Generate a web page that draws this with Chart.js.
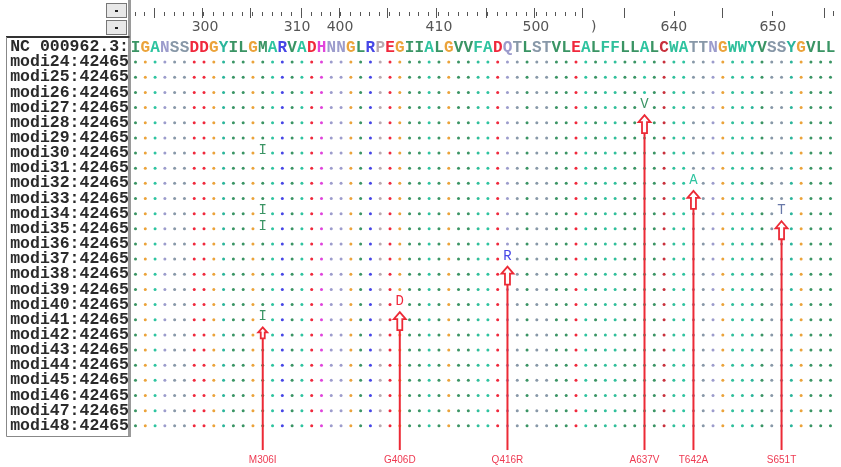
<!DOCTYPE html>
<html><head><meta charset="utf-8">
<script src="https://cdn.jsdelivr.net/npm/chart.js@4.4.1/dist/chart.umd.min.js"></script>
<style>html,body{margin:0;padding:0;background:#fff;}#wrap{width:841px;height:467px;position:relative}</style>
</head><body><div id="wrap"><canvas id="c" width="841" height="467"></canvas></div>
<script>
// ---------- data ----------
const residues = "IGANSSDDGYILGMARVADHNNGLRPEGIIALGVVFADQTLSTVLEALFFLLALCWATTNGWWYVSSYGVLL".split('');
const refName = "NC 000962.3:";
const sampleIds = [24,25,26,27,28,29,30,31,32,33,34,35,36,37,38,39,40,41,42,43,44,45,46,47,48];
const sampleSuffix = ":42465";
const rulerLabels = ["300","310","400","410","500",")","640","650"];
const rulerLabelCols = [7.1,16.5,20.9,31.0,40.9,46.8,55.0,65.1];
const rulerMajorCols = [1.9,6.8,11.7,16.9,20.8,25.7,30.7,35.8,40.7,45.6,49.9,59.9,70.3];
const rulerMinorCols = [55.0,65.0,71.3];
const mutationNames = ["M306I","G406D","Q416R","A637V","T642A","S651T"];
const mutationCols = [13,27,38,52,57,66];
const mutationResidues = ["I","D","R","V","A","T"];
const mutationRows = [[6,10,11,17],[16],[13],[3],[8],[10]]; // 0 = modi24

// ---------- styles ----------
const colorMap = {A:'#2ec4a0',G:'#eba33a',N:'#9c9ccc',S:'#8898a8',T:'#8898a8',D:'#f0283c',E:'#f0283c',
  Y:'#2bb59b',I:'#3a9464',L:'#3a9464',V:'#3a9464',M:'#3a9464',R:'#4646e6',H:'#e044dc',P:'#b8a8b0',
  F:'#30c09c',W:'#30c09c',C:'#c8303c',Q:'#9c9ccc'};
const mutColor = {I:'#3a9464',D:'#f0283c',R:'#4646e6',V:'#3a9464',A:'#2ec4a0',T:'#6878a8'};
const RED = '#ec2a36';

const rowLabels = [refName].concat(sampleIds.map(n => 'modi' + n + sampleSuffix));
const rowVals = rowLabels.map((_, i) => i - 1);

const mutSet = new Set();
mutationCols.forEach((c, i) => mutationRows[i].forEach(r => mutSet.add(c + ':' + r)));
const dots = [];
for (let r = 0; r < sampleIds.length; r++) {
  residues.forEach((res, c) => {
    if (res !== ' ' && !mutSet.has(c + ':' + r)) dots.push({x: c, y: r});
  });
}

const overlay = {
  id: 'overlay',
  afterDatasetsDraw(chart) {
    const {ctx, scales: {x, y}, chartArea: ca} = chart;
    ctx.save();
    // reference sequence
    const refY = y.getPixelForValue(-1);
    ctx.font = 'bold 16px "Liberation Mono"';
    ctx.textAlign = 'center'; ctx.textBaseline = 'middle';
    residues.forEach((res, c) => {
      if (res === ' ') return;
      ctx.fillStyle = colorMap[res];
      ctx.fillText(res, x.getPixelForValue(c), refY + 1);
    });
    // ruler
    ctx.strokeStyle = '#555'; ctx.lineWidth = 1;
    for (let c = 0; c < 46; c++) {
      const px = Math.round(x.getPixelForValue(c - 0.1)) + 0.5;
      ctx.beginPath(); ctx.moveTo(px, 12); ctx.lineTo(px, 16); ctx.stroke();
    }
    rulerMajorCols.forEach(c => {
      const px = Math.round(x.getPixelForValue(c)) + 0.5;
      ctx.beginPath(); ctx.moveTo(px, 8); ctx.lineTo(px, 18); ctx.stroke();
    });
    rulerMinorCols.forEach(c => {
      const px = Math.round(x.getPixelForValue(c)) + 0.5;
      ctx.beginPath(); ctx.moveTo(px, 11); ctx.lineTo(px, 16); ctx.stroke();
    });
    ctx.fillStyle = '#555'; ctx.font = '14px "DejaVu Sans"';
    rulerLabels.forEach((t, i) => ctx.fillText(t, x.getPixelForValue(rulerLabelCols[i]), refY - 20));
    // mutated residues
    ctx.font = '14px "Liberation Mono"';
    mutationCols.forEach((c, i) => {
      ctx.fillStyle = mutColor[mutationResidues[i]];
      mutationRows[i].forEach(r => ctx.fillText(mutationResidues[i], x.getPixelForValue(c), y.getPixelForValue(r) - 3));
    });
    // arrows, lines, labels
    const yBottom = y.getPixelForValue(25.6);
    const yLabel = y.getPixelForValue(26.3);
    mutationCols.forEach((c, i) => {
      const px = x.getPixelForValue(c);
      const last = Math.max(...mutationRows[i]);
      const tip = y.getPixelForValue(last + 0.5);
      const h = i === 0 ? 11 : 18, hw = i === 0 ? 4.5 : 6, sw = i === 0 ? 2 : 2.5, headH = i === 0 ? 5 : 7;
      ctx.strokeStyle = RED; ctx.lineWidth = 2;
      ctx.beginPath(); ctx.moveTo(px, tip + h); ctx.lineTo(px, yBottom); ctx.stroke();
      ctx.beginPath();
      ctx.moveTo(px, tip);
      ctx.lineTo(px + hw, tip + headH);
      ctx.lineTo(px + sw, tip + headH);
      ctx.lineTo(px + sw, tip + h);
      ctx.lineTo(px - sw, tip + h);
      ctx.lineTo(px - sw, tip + headH);
      ctx.lineTo(px - hw, tip + headH);
      ctx.closePath();
      ctx.fillStyle = '#fff'; ctx.fill();
      ctx.lineWidth = 1.8; ctx.stroke();
      ctx.fillStyle = '#ee3a52'; ctx.font = '10px "Liberation Sans"';
      ctx.fillText(mutationNames[i], px, yLabel);
    });
    // panel chrome
    const sep = ca.left - 1.5;
    ctx.strokeStyle = '#9a9a9a'; ctx.lineWidth = 3;
    ctx.beginPath(); ctx.moveTo(sep, 0); ctx.lineTo(sep, 437); ctx.stroke();
    ctx.strokeStyle = '#333'; ctx.lineWidth = 2;
    ctx.beginPath(); ctx.moveTo(6, 37); ctx.lineTo(sep, 37); ctx.stroke();
    ctx.strokeStyle = '#888'; ctx.lineWidth = 1;
    ctx.beginPath(); ctx.moveTo(6.5, 37); ctx.lineTo(6.5, 436.5); ctx.lineTo(sep, 436.5); ctx.stroke();
    // spin buttons
    [[106, 3], [106, 20]].forEach(([bx, by]) => {
      ctx.fillStyle = '#e8e8e8'; ctx.fillRect(bx, by, 21, 15);
      ctx.strokeStyle = '#777'; ctx.lineWidth = 1; ctx.strokeRect(bx + 0.5, by + 0.5, 20, 14);
      ctx.fillStyle = '#222'; ctx.fillRect(bx + 9, by + 7, 3, 2);
    });
    ctx.restore();
  }
};

new Chart(document.getElementById('c'), {
  type: 'scatter',
  data: { datasets: [{
    data: dots,
    pointRadius: 1.5, pointHoverRadius: 1.5, borderWidth: 0,
    backgroundColor: ctx => ctx.raw ? colorMap[residues[ctx.raw.x]] : '#888'
  }]},
  options: {
    responsive: false, animation: false, events: [],
    layout: { padding: 0 },
    plugins: { legend: { display: false }, tooltip: { enabled: false } },
    scales: {
      x: { type: 'linear', min: -0.459, max: 71.92, display: false },
      y: { type: 'linear', reverse: true, min: -4.0, max: 26.62,
        afterBuildTicks: ax => { ax.ticks = rowVals.map(v => ({value: v})); },
        afterFit: ax => { ax.width = 131; ax.paddingTop = 0; ax.paddingBottom = 0; },
        grid: { display: false, drawTicks: false }, border: { display: false },
        ticks: { autoSkip: false, padding: 2, color: '#2a2a2a',
          font: { family: 'Liberation Mono', size: 16.5, weight: 'bold' },
          callback: v => rowLabels[v + 1] }
      }
    }
  },
  plugins: [overlay]
});
</script></body></html>
